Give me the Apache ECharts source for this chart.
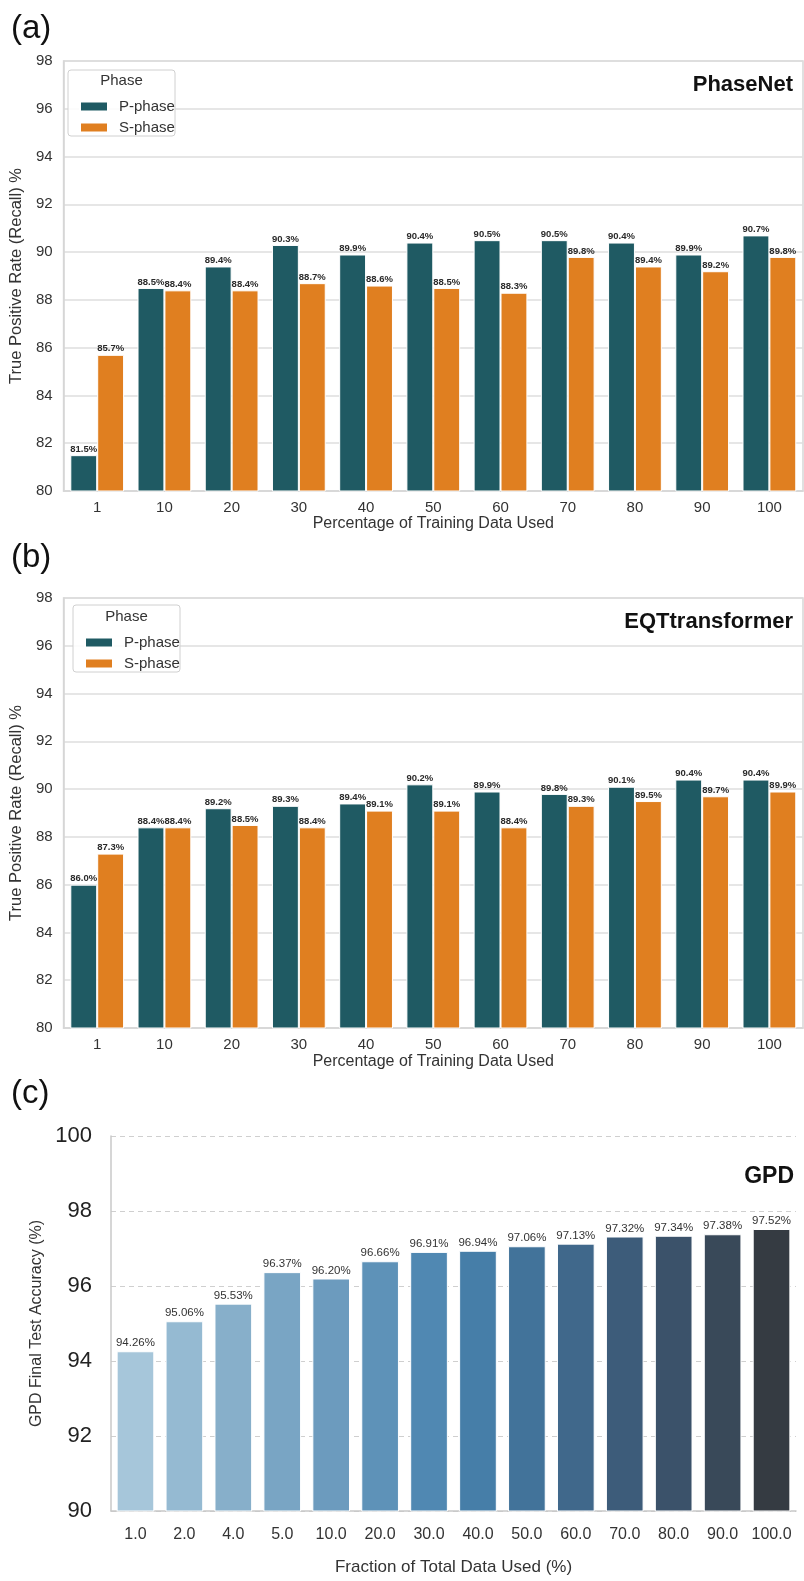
<!DOCTYPE html>
<html>
<head>
<meta charset="utf-8">
<title>Recall and accuracy vs. training data</title>
<script src="https://cdn.jsdelivr.net/npm/echarts@6/dist/echarts.min.js"></script>
<style>
  html, body { margin: 0; padding: 0; background: #fff; font-family: 'Liberation Sans', Arial, sans-serif; }
  #chart { width: 804px; height: 1581px; }
</style>
</head>
<body>
<div id="chart"></div>
<script>
// ---- data ----
const phaseCategories = ['1', '10', '20', '30', '40', '50', '60', '70', '80', '90', '100'];

const phaseNetP = [81.5, 88.5, 89.4, 90.3, 89.9, 90.4, 90.5, 90.5, 90.4, 89.9, 90.7];
const phaseNetS = [85.7, 88.4, 88.4, 88.7, 88.6, 88.5, 88.3, 89.8, 89.4, 89.2, 89.8];

const eqtP = [86.0, 88.4, 89.2, 89.3, 89.4, 90.2, 89.9, 89.8, 90.1, 90.4, 90.4];
const eqtS = [87.3, 88.4, 88.5, 88.4, 89.1, 89.1, 88.4, 89.3, 89.5, 89.7, 89.9];

const gpdCategories = ['1.0', '2.0', '4.0', '5.0', '10.0', '20.0', '30.0', '40.0', '50.0', '60.0', '70.0', '80.0', '90.0', '100.0'];
const gpdAccuracy = [94.26, 95.06, 95.53, 96.37, 96.20, 96.66, 96.91, 96.94, 97.06, 97.13, 97.32, 97.34, 97.38, 97.52];

// ---- styling ----
const FONT = "'Liberation Sans', Arial, Helvetica, sans-serif";
const P_COLOR = '#1f5a63';
const S_COLOR = '#e07f20';
const gpdPalette = ['#a6c6da', '#95bad2', '#87afca', '#79a5c4', '#6c9bbe', '#5e92b8', '#5088b2', '#467ea8',
                    '#42739a', '#40688b', '#3d5c7a', '#3b526a', '#394959', '#353b42'];

function phaseSeries(name, values, color, idx) {
  return {
    type: 'bar',
    name: name,
    xAxisIndex: idx,
    yAxisIndex: idx,
    data: values,
    barGap: '0%',
    barCategoryGap: '20%',
    itemStyle: { color: color, borderColor: '#ffffff', borderWidth: 1 },
    label: {
      show: true,
      position: 'top',
      distance: 1,
      fontFamily: FONT,
      fontSize: 9.5,
      fontWeight: 'bold',
      color: '#2a2a2a',
      formatter: p => p.value.toFixed(1) + '%'
    }
  };
}

function phaseXAxis(idx, gap, labelMargin) {
  return {
    type: 'category',
    gridIndex: idx,
    data: phaseCategories,
    axisTick: { show: false },
    axisLine: { lineStyle: { color: '#d6d6d6', width: 1.5 } },
    axisLabel: { fontFamily: FONT, fontSize: 15, color: '#333', margin: labelMargin, interval: 0 },
    name: 'Percentage of Training Data Used',
    nameLocation: 'middle',
    nameGap: gap,
    nameTextStyle: { fontFamily: FONT, fontSize: 16, color: '#333' }
  };
}

function phaseYAxis(idx, gap) {
  return {
    type: 'value',
    gridIndex: idx,
    min: 80,
    max: 98,
    interval: 2,
    axisTick: { show: false },
    axisLine: { show: true, lineStyle: { color: '#d6d6d6', width: 1.5 } },
    splitLine: { lineStyle: { color: '#dedede', width: 1.5 } },
    axisLabel: { fontFamily: FONT, fontSize: 15, color: '#333', margin: 11 },
    name: 'True Positive Rate (Recall) %',
    nameLocation: 'middle',
    nameGap: gap,
    nameTextStyle: { fontFamily: FONT, fontSize: 16.5, color: '#333' }
  };
}

function legendBlock(left, top) {
  return {
    left: left,
    top: top,
    z: 100,
    orient: 'vertical',
    itemWidth: 28,
    itemHeight: 10,
    itemGap: 6,
    icon: 'rect',
    selectedMode: false,
    textStyle: { fontFamily: FONT, fontSize: 15, color: '#333', lineHeight: 15, padding: [0, 0, 0, 6] },
    data: ['P-phase', 'S-phase']
  };
}

function legendFrame(x, y, w, h, titleY) {
  return [
    {
      type: 'rect', z: 50,
      shape: { x: x, y: y, width: w, height: h, r: 3 },
      style: { fill: 'rgba(255,255,255,0.85)', stroke: '#d0d0d0', lineWidth: 1 }
    },
    {
      type: 'text', z: 51,
      x: x + w / 2, y: titleY,
      style: { text: 'Phase', fontFamily: FONT, fontSize: 15, fill: '#333', align: 'center', verticalAlign: 'middle' }
    }
  ];
}

function panelText(text, x, y, size, weight, align) {
  return {
    type: 'text', z: 51,
    x: x, y: y,
    style: { text: text, fontFamily: FONT, fontSize: size, fontWeight: weight, fill: '#111', align: align, verticalAlign: 'middle' }
  };
}

const option = {
  animation: false,
  backgroundColor: '#ffffff',
  grid: [
    { left: 60, top: 61, width: 743, height: 430, show: true, borderColor: '#d6d6d6', borderWidth: 1.5 },
    { left: 63, top: 598, width: 740, height: 430, show: true, borderColor: '#d6d6d6', borderWidth: 1.5 },
    { left: 111, top: 1136, width: 685, height: 375 }
  ],
  legend: [legendBlock(74, 94), legendBlock(79, 630)],
  xAxis: [
    phaseXAxis(0, 24, 9),
    phaseXAxis(1, 26, 9),
    {
      type: 'category',
      gridIndex: 2,
      data: gpdCategories,
      axisTick: { show: false },
      axisLine: { lineStyle: { color: '#c8c8c8', width: 1.5 } },
      axisLabel: { fontFamily: FONT, fontSize: 16, color: '#333', margin: 16, interval: 0 },
      name: 'Fraction of Total Data Used (%)',
      nameLocation: 'middle',
      nameGap: 48,
      nameTextStyle: { fontFamily: FONT, fontSize: 17, color: '#333' }
    }
  ],
  yAxis: [
    phaseYAxis(0, 33),
    phaseYAxis(1, 33),
    {
      type: 'value',
      gridIndex: 2,
      min: 90,
      max: 100,
      interval: 2,
      axisTick: { show: false },
      axisLine: { show: true, lineStyle: { color: '#c8c8c8', width: 1.5 } },
      splitLine: { lineStyle: { color: '#cfcfcf', width: 1.2, type: [5, 4] } },
      axisLabel: { fontFamily: FONT, fontSize: 22, color: '#222', margin: 19 },
      name: 'GPD Final Test Accuracy (%)',
      nameLocation: 'middle',
      nameGap: 62,
      nameTextStyle: { fontFamily: FONT, fontSize: 16, color: '#333' }
    }
  ],
  series: [
    phaseSeries('P-phase', phaseNetP, P_COLOR, 0),
    phaseSeries('S-phase', phaseNetS, S_COLOR, 0),
    phaseSeries('P-phase', eqtP, P_COLOR, 1),
    phaseSeries('S-phase', eqtS, S_COLOR, 1),
    {
      type: 'bar',
      name: 'GPD',
      xAxisIndex: 2,
      yAxisIndex: 2,
      barCategoryGap: '23%',
      data: gpdAccuracy.map((v, i) => ({
        value: v,
        itemStyle: { color: gpdPalette[i % gpdPalette.length] }
      })),
      itemStyle: { borderColor: '#ffffff', borderWidth: 1 },
      label: {
        show: true,
        position: 'top',
        distance: 2,
        fontFamily: FONT,
        fontSize: 11.5,
        color: '#333',
        formatter: p => p.value.toFixed(2) + '%'
      }
    }
  ],
  graphic: [
    ...legendFrame(68, 70, 107, 66, 81),
    ...legendFrame(73, 605, 107, 67, 617),
    panelText('(a)', 11, 29, 33, 'normal', 'left'),
    panelText('(b)', 11, 558, 33, 'normal', 'left'),
    panelText('(c)', 11, 1094, 33, 'normal', 'left'),
    panelText('PhaseNet', 793, 85, 22, 'bold', 'right'),
    panelText('EQTtransformer', 793, 622, 22, 'bold', 'right'),
    panelText('GPD', 794, 1177, 23, 'bold', 'right')
  ]
};

// Draw once the text face is ready so label measurements use the final font.
function draw() {
  const chart = echarts.init(document.getElementById('chart'), null, { renderer: 'canvas' });
  chart.setOption(option);
}
if (document.fonts && document.fonts.load) {
  Promise.all([
    document.fonts.load("15px 'Liberation Sans'"),
    document.fonts.load("bold 15px 'Liberation Sans'")
  ]).then(draw, draw);
} else {
  draw();
}
</script>
</body>
</html>
